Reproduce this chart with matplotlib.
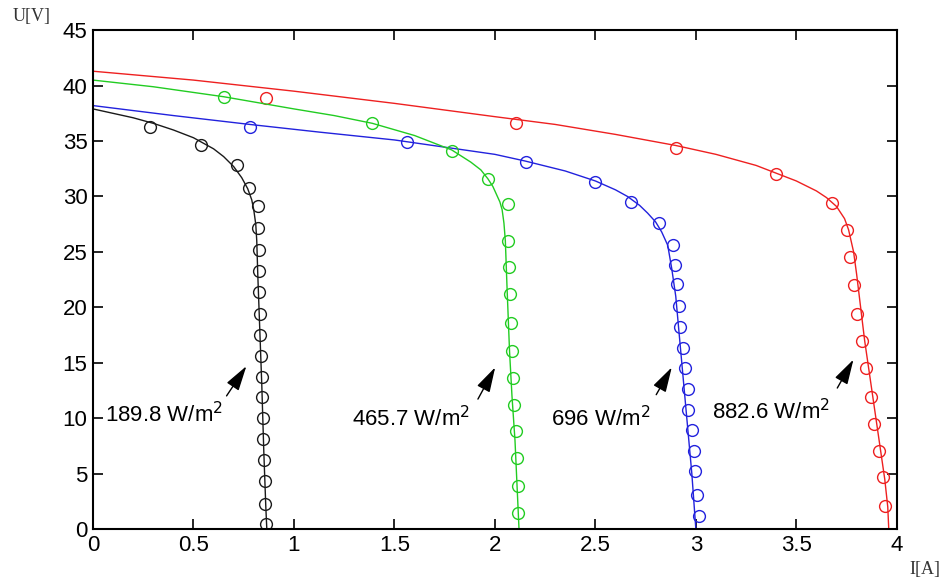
import matplotlib
matplotlib.use("Agg")
import matplotlib.pyplot as plt

# measured points (I [A], U [V])
i_189 = [0.284, 0.537, 0.718, 0.778, 0.819, 0.819, 0.824, 0.824, 0.828, 0.831, 0.831,
         0.834, 0.839, 0.841, 0.846, 0.846, 0.851, 0.856, 0.856, 0.861]
u_189 = [36.25, 34.6, 32.8, 30.8, 29.1, 27.2, 25.2, 23.3, 21.4, 19.4, 17.5,
         15.6, 13.7, 11.9, 10.0, 8.1, 6.2, 4.3, 2.3, 0.45]

i_466 = [0.652, 1.387, 1.785, 1.964, 2.063, 2.066, 2.071, 2.075, 2.078, 2.083, 2.090,
         2.095, 2.103, 2.108, 2.116, 2.116]
u_466 = [39.0, 36.6, 34.1, 31.6, 29.3, 26.0, 23.6, 21.2, 18.6, 16.1, 13.6,
         11.2, 8.8, 6.4, 3.9, 1.4]

i_696 = [0.781, 1.564, 2.153, 2.498, 2.677, 2.816, 2.884, 2.896, 2.904, 2.917, 2.920,
         2.934, 2.945, 2.959, 2.962, 2.979, 2.990, 2.998, 3.006, 3.016]
u_696 = [36.3, 34.9, 33.1, 31.3, 29.5, 27.6, 25.6, 23.8, 22.1, 20.1, 18.2,
         16.3, 14.5, 12.6, 10.7, 8.9, 7.0, 5.2, 3.1, 1.2]

i_883 = [0.859, 2.103, 2.899, 3.401, 3.680, 3.750, 3.766, 3.788, 3.804, 3.827, 3.846,
         3.874, 3.886, 3.912, 3.932, 3.940]
u_883 = [38.9, 36.6, 34.4, 32.0, 29.4, 27.0, 24.5, 22.0, 19.4, 17.0, 14.5,
         11.9, 9.5, 7.0, 4.7, 2.1]

# model curves
fit_i_189 = [0, 0.1, 0.2, 0.3, 0.4, 0.5, 0.6, 0.65, 0.7, 0.74, 0.77, 0.79, 0.80, 0.81,
             0.815, 0.82, 0.83, 0.84, 0.85, 0.86, 0.865, 4]
fit_u_189 = [37.9, 37.5, 37.1, 36.6, 36.0, 35.3, 34.3, 33.6, 32.7, 31.7, 30.7, 29.7, 28.8, 27.5,
             26.0, 23.0, 18.0, 13.0, 7.0, 2.0, 0, 0]

fit_i_466 = [0, 0.3, 0.65, 1.0, 1.2, 1.39, 1.6, 1.785, 1.88, 1.93, 1.965, 1.99, 2.01, 2.025,
             2.036, 2.045, 2.052, 2.06, 2.073, 2.085, 2.1, 2.11, 2.12, 4]
fit_u_466 = [40.5, 39.9, 39.0, 37.9, 37.3, 36.6, 35.5, 34.2, 33.1, 32.4, 31.6, 30.9, 30.1, 29.5,
             28.8, 27.6, 26.0, 22.0, 16.0, 12.0, 8.0, 4.0, 0, 0]

fit_i_696 = [0, 0.4, 0.78, 1.13, 1.5, 2.0, 2.15, 2.35, 2.5, 2.6, 2.66, 2.72, 2.76, 2.80, 2.83,
             2.86, 2.88, 2.90, 2.92, 2.94, 2.96, 2.98, 3.0, 4]
fit_u_696 = [38.2, 37.3, 36.5, 35.8, 35.1, 33.8, 33.2, 32.3, 31.4, 30.6, 30.0, 29.2, 28.5, 27.7,
             26.8, 25.6, 23.5, 21.0, 17.0, 13.0, 9.0, 5.0, 0, 0]

fit_i_883 = [0, 0.5, 1.0, 1.5, 2.0, 2.3, 2.6, 2.9, 3.1, 3.2, 3.3, 3.4, 3.5, 3.6, 3.65, 3.7, 3.74,
             3.76, 3.785, 3.80, 3.82, 3.84, 3.86, 3.88, 3.90, 3.92, 3.94, 3.955, 3.96, 4]
fit_u_883 = [41.3, 40.5, 39.5, 38.4, 37.2, 36.5, 35.6, 34.6, 33.8, 33.3, 32.8, 32.1, 31.4, 30.5,
             29.9, 29.1, 28.0, 27.0, 25.0, 23.0, 20.0, 17.0, 14.5, 12.0, 9.5, 7.0, 4.5, 2.0, 0, 0]

labels = ["189.8 W/m$^2$", "465.7 W/m$^2$", "696 W/m$^2$", "882.6 W/m$^2$"]
label_xy = [(0.06, 10.3), (1.29, 10.0), (2.28, 10.0), (3.08, 10.6)]
arrow_tail = [(0.657, 11.8), (1.909, 11.5), (2.796, 11.9), (3.697, 12.5)]
arrow_head = [(0.771, 14.9), (2.008, 14.8), (2.887, 14.8), (3.791, 15.5)]

plt.rcParams['font.family'] = ['Liberation Sans', 'DejaVu Sans']

fig = plt.figure(figsize=(9.44, 5.81), dpi=100)
ax = fig.add_axes([0.0985, 0.0895, 0.8515, 0.8585])

series = [
    (fit_i_189, fit_u_189, i_189, u_189, '#1a1a1a'),
    (fit_i_883, fit_u_883, i_883, u_883, '#ee2020'),
    (fit_i_696, fit_u_696, i_696, u_696, '#2222dd'),
    (fit_i_466, fit_u_466, i_466, u_466, '#22cc22'),
]
for fi, fu, mi, mu, c in series:
    ax.plot(fi, fu, color=c, lw=1.0)
    ax.plot(mi, mu, 'o', mfc='none', mec=c, ms=8.5, mew=1.0)

for txt, pos, tail, head in zip(labels, label_xy, arrow_tail, arrow_head):
    ax.text(pos[0], pos[1], txt, fontsize=16, va='center', ha='left')
    ax.annotate('', xy=head, xytext=tail,
                arrowprops=dict(arrowstyle='-|>,head_length=0.7,head_width=0.2',
                                color='k', lw=1.0, mutation_scale=22))

ax.set_xlim(0, 4)
ax.set_ylim(0, 45)
ax.set_xticks([0, 0.5, 1, 1.5, 2, 2.5, 3, 3.5, 4])
ax.set_xticklabels(['0', '0.5', '1', '1.5', '2', '2.5', '3', '3.5', '4'])
ax.set_yticks(range(0, 46, 5))
ax.tick_params(direction='in', top=True, right=True, length=7, width=1.2, labelsize=16, pad=4)
for s in ax.spines.values():
    s.set_linewidth(1.5)

fig.text(0.013, 0.972, 'U[V]', family='Liberation Serif', fontsize=13, color='#333333', va='center')
fig.text(0.963, 0.02, 'I[A]', family='Liberation Serif', fontsize=13, color='#333333', va='center')

fig.savefig('out.png', dpi=100)
